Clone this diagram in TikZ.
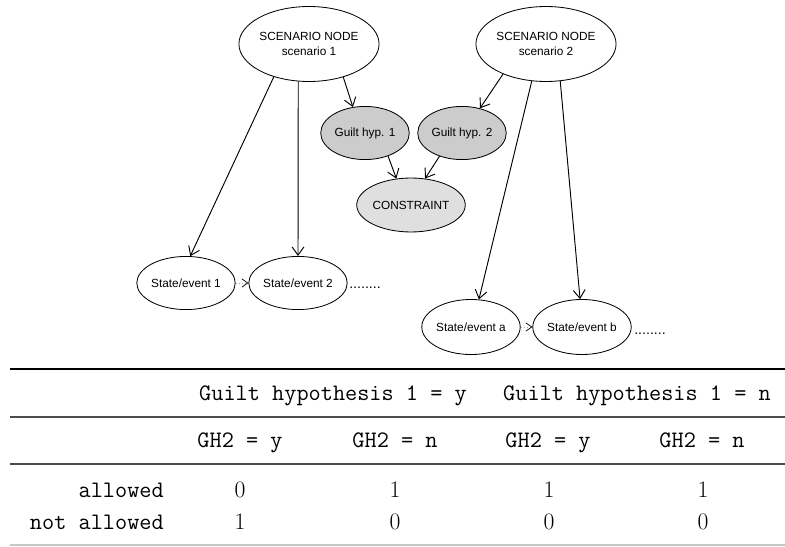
\documentclass[tikz,border=0pt]{standalone}
\usepackage{fontspec}
\newfontfamily\diagfont{Liberation Sans}
\usetikzlibrary{positioning, shapes.geometric, arrows.meta}

\begin{document}
\begin{tikzpicture}[
    x=0.8468pt, y=-0.8468pt,
    % 定义样式
    basic/.style={draw, ellipse, fill=white, inner sep=0pt, line width=0.7pt, align=center,
        font=\diagfont\fontsize{10}{12}\selectfont},
    scenario/.style={basic, minimum width=106.7pt, minimum height=63.5pt},
    hyp/.style={basic, fill=gray!40, minimum width=75pt, minimum height=45pt},
    constraint/.style={basic, fill=gray!25, minimum width=74.5pt, minimum height=45.7pt},
    state/.style={basic, minimum width=75pt, minimum height=45pt},
    dots/.style={font=\diagfont\fontsize{12}{14}\selectfont, inner sep=0pt, anchor=base},
    arrow/.style={-{Straight Barb[length=7pt, width=10pt]}, line width=0.8pt},
    dotarrow/.style={-{Straight Barb[length=5pt, width=7pt, color=black]}, dotted, gray!70, line width=0.6pt},
    tabtext/.style={font=\ttfamily\fontsize{20}{24}\selectfont, inner sep=0pt, anchor=base},
    numtext/.style={font=\rmfamily\fontsize{20}{24}\selectfont, inner sep=0pt, anchor=base}
]
\useasboundingbox (0,0) rectangle (785,547);

% --- 绘制节点 ---

% 1. 场景节点 (Scenario nodes)
\node[scenario] (SC1) at (309,44) {SCENARIO NODE\\ scenario 1};
\node[scenario] (SC2) at (546,44) {SCENARIO NODE\\ scenario 2};

% 2. 假设与约束 (Hypotheses / constraint)
\node[hyp] (GH1) at (365,133) {Guilt hyp. 1};
\node[hyp] (GH2) at (462,133) {Guilt hyp. 2};
\node[constraint] (CON) at (411,205) {CONSTRAINT};

% 3. 状态/事件 (States / events)
\node[state] (SE1) at (186,283) {State/event 1};
\node[state] (SE2) at (298,283) {State/event 2};
\node[dots] (dots1) at (365,288) {........};
\node[state, minimum height=46.6pt] (SEa) at (471,327) {State/event a};
\node[state, minimum height=46.6pt] (SEb) at (582,327) {State/event b};
\node[dots] (dots2) at (650,334) {........};

% --- 绘制连接线 ---
\draw[arrow] (SC1.223) -- (SE1.81);
\draw[arrow] (SC1.254) -- (SE2.north);
\draw[arrow] (SC1.316) -- (GH1.115);
\draw[arrow] (SC2.215) -- (GH2.54);
\draw[arrow] (SC2.249) -- (SEa.74);
\draw[arrow] (SC2.291) -- (SEb.94);
\draw[arrow] (GH1.315) -- (CON.119);
\draw[arrow] (GH2.226) -- (CON.62);
\draw[dotarrow] (SE1.east) -- (SE2.west);
\draw[dotarrow] (SEa.east) -- (SEb.west);

% --- 表格 (Table) ---
\draw[line width=2pt] (10,369) -- (785,369);
\draw[line width=1.2pt, black!70] (10,417) -- (785,417);
\draw[line width=1.2pt, black!70] (10,464) -- (785,464);
\draw[line width=1.2pt, black!22] (10,545) -- (785,545);

\node[tabtext] (head1) at (333,400) {Guilt hypothesis 1 = y};
\node[tabtext] (head2) at (637,400) {Guilt hypothesis 1 = n};

\foreach \x/\v [count=\c] in {240/y, 395/n, 548/y, 702/n}
    \node[tabtext] (gh-\c) at (\x,447) {GH2 = \v};

\node[tabtext, anchor=base east] (row1) at (164,497) {allowed};
\node[tabtext, anchor=base east] (row2) at (164,529) {not allowed};

\foreach \x/\a/\n [count=\c] in {240/0/1, 395/1/0, 549/1/0, 703/1/0} {
    \node[numtext] (al-\c) at (\x,497) {\a};
    \node[numtext] (na-\c) at (\x,529) {\n};
}

\end{tikzpicture}
\end{document}
